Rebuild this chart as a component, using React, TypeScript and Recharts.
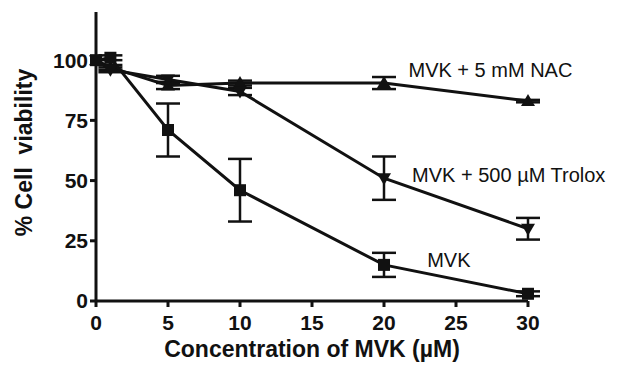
import React from "react";
import {
  LineChart,
  Line,
  XAxis,
  YAxis,
  ErrorBar,
  ReferenceDot,
} from "recharts";

const concentrations = [0, 1, 5, 10, 20, 30];

const mvkValues = [100, 101, 71, 46, 15, 3];
const mvkErrors = [0, 1, 11, 13, 5, 1];

const nacValues = [100, 97, 89.5, 90.5, 90.5, 83];
const nacErrors = [0, 1, 1.5, 1, 2.5, 0.5];

const troloxValues = [100, 96, 92, 87, 51, 30];
const troloxErrors = [0, 1, 1.5, 1.5, 9, 4.5];

const xTicks = [0, 5, 10, 15, 20, 25, 30];
const yTicks = [0, 25, 50, 75, 100];

const seriesLabels = [
  { text: "MVK + 5 mM NAC", x: 21.7, y: 95.4 },
  { text: "MVK + 500 \u00B5M Trolox", x: 21.95, y: 51.7 },
  { text: "MVK", x: 23.0, y: 16.3 },
];

const INK = "#111";
const FONT = "'Liberation Sans', Arial, sans-serif";

const toRows = (values: number[], errors: number[]) =>
  concentrations.map((x, i) => ({ x, y: values[i], err: errors[i] }));

const mvkData = toRows(mvkValues, mvkErrors);
const nacData = toRows(nacValues, nacErrors);
const troloxData = toRows(troloxValues, troloxErrors);

const squareDot = (props: any) => (
  <rect
    key={`sq-${props.index}`}
    x={props.cx - 6}
    y={props.cy - 6}
    width={12}
    height={12}
    fill={INK}
  />
);

const triangleDot = (props: any) => {
  const { cx, cy } = props;
  return (
    <path
      key={`tr-${props.index}`}
      d={`M${cx},${cy - 7} L${cx + 7},${cy + 5} L${cx - 7},${cy + 5} Z`}
      fill={INK}
    />
  );
};

const invTriangleDot = (props: any) => {
  const { cx, cy } = props;
  return (
    <path
      key={`itr-${props.index}`}
      d={`M${cx},${cy + 7} L${cx + 7},${cy - 5} L${cx - 7},${cy - 5} Z`}
      fill={INK}
    />
  );
};

const tickStyle = {
  fill: INK,
  fontFamily: FONT,
  fontWeight: 700,
  fontSize: 21,
};

export default function App() {
  return (
    <div style={{ position: "absolute", left: 0, top: 0, background: "#fff" }}>
      <LineChart
        width={619}
        height={369}
        margin={{ top: 12, right: 91, left: 0, bottom: 0 }}
      >
        <XAxis
          dataKey="x"
          type="number"
          domain={[0, 30]}
          ticks={xTicks}
          allowDuplicatedCategory={false}
          height={68}
          stroke={INK}
          strokeWidth={3}
          tickSize={6}
          tickLine={{ stroke: INK, strokeWidth: 3 }}
          tick={tickStyle}
          tickMargin={8}
          label={{
            content: ({ viewBox }: any) => (
              <text
                x={viewBox.x + viewBox.width / 2}
                y={viewBox.y + 50}
                textAnchor="middle"
                dominantBaseline="middle"
                fill={INK}
                fontFamily={FONT}
                fontWeight={700}
                fontSize={23}
              >
                Concentration of MVK (µM)
              </text>
            ),
          }}
        />
        <YAxis
          type="number"
          domain={[0, 120]}
          ticks={yTicks}
          width={96}
          stroke={INK}
          strokeWidth={3}
          tickSize={6}
          tickLine={{ stroke: INK, strokeWidth: 3 }}
          tick={tickStyle}
          tickMargin={2}
          label={{
            content: ({ viewBox }: any) => {
              const cx = 26;
              const cy = viewBox.y + viewBox.height / 2 - 4;
              return (
                <text
                  x={cx}
                  y={cy}
                  transform={`rotate(-90 ${cx} ${cy})`}
                  textAnchor="middle"
                  dominantBaseline="middle"
                  fill={INK}
                  fontFamily={FONT}
                  fontWeight={700}
                  fontSize={23}
                  style={{ whiteSpace: "pre" }}
                >
                  {"% Cell  viability"}
                </text>
              );
            },
          }}
        />
        <Line
          data={nacData}
          dataKey="y"
          type="linear"
          stroke={INK}
          strokeWidth={3}
          dot={triangleDot}
          isAnimationActive={false}
        >
          <ErrorBar dataKey="err" direction="y" width={12} stroke={INK} strokeWidth={2.5} />
        </Line>
        <Line
          data={troloxData}
          dataKey="y"
          type="linear"
          stroke={INK}
          strokeWidth={3}
          dot={invTriangleDot}
          isAnimationActive={false}
        >
          <ErrorBar dataKey="err" direction="y" width={12} stroke={INK} strokeWidth={2.5} />
        </Line>
        <Line
          data={mvkData}
          dataKey="y"
          type="linear"
          stroke={INK}
          strokeWidth={3}
          dot={squareDot}
          isAnimationActive={false}
        >
          <ErrorBar dataKey="err" direction="y" width={12} stroke={INK} strokeWidth={2.5} />
        </Line>
        {seriesLabels.map((l) => (
          <ReferenceDot
            key={l.text}
            x={l.x}
            y={l.y}
            r={0}
            fill="none"
            stroke="none"
            label={{
              content: ({ viewBox }: any) => (
                <text
                  x={viewBox.x}
                  y={viewBox.y + viewBox.height / 2}
                  dominantBaseline="middle"
                  fill={INK}
                  fontFamily={FONT}
                  fontSize={20}
                >
                  {l.text}
                </text>
              ),
            }}
          />
        ))}
      </LineChart>
    </div>
  );
}
